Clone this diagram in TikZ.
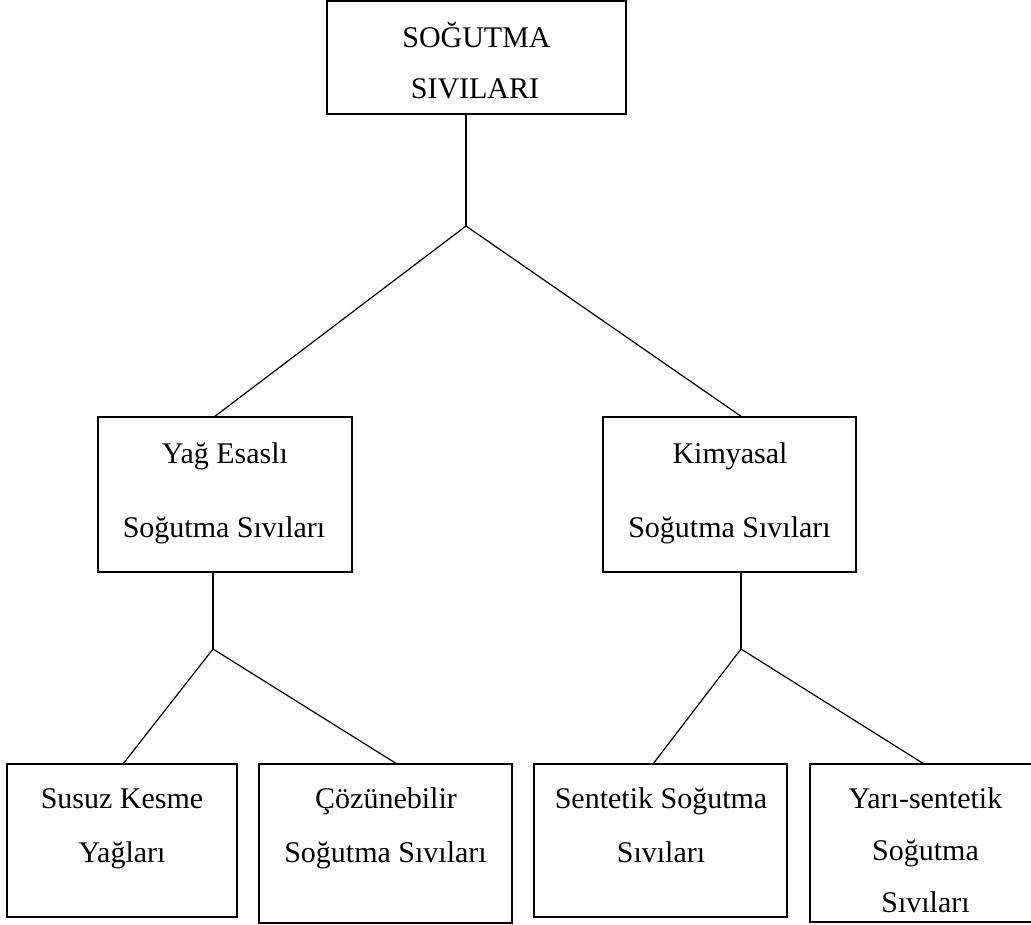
\documentclass[tikz,border=0pt]{standalone}
\usepackage{fontspec}
\setmainfont{Liberation Serif}
\begin{document}
\begin{tikzpicture}[x=1pt,y=1pt,
  box/.style={draw,line width=1.4pt,inner sep=0pt,rectangle},
  lbl/.style={anchor=base,inner sep=0pt,font=\fontsize{30}{36}\selectfont},
  conn/.style={line width=1.2pt}]
\useasboundingbox (0,0) rectangle (1031,-925);
\fill[white] (0,0) rectangle (1031,-925);
\clip (0,0) rectangle (1031,-925);
% boxes
\node[box,minimum width=299pt,minimum height=113pt] (top) at (476.5,-57.5) {};
\node[box,minimum width=254pt,minimum height=155pt] (mL) at (225,-494.5) {};
\node[box,minimum width=253pt,minimum height=155pt] (mR) at (729.5,-494.5) {};
\node[box,minimum width=230pt,minimum height=153pt] (b1) at (122,-840.5) {};
\node[box,minimum width=253pt,minimum height=159pt] (b2) at (385.5,-843.5) {};
\node[box,minimum width=253pt,minimum height=153pt] (b3) at (660.5,-840.5) {};
\node[box,minimum width=231pt,minimum height=158pt] (b4) at (925.5,-843) {};
% labels
\node[lbl] (t1) at (476.5,-48) {SOĞUTMA};
\node[lbl] (t2) at (475,-99) {SIVILARI};
\node[lbl] (mL1) at (225,-463) {Yağ Esaslı};
\node[lbl] (mL2) at (224,-537) {Soğutma Sıvıları};
\node[lbl] (mR1) at (730,-463) {Kimyasal};
\node[lbl] (mR2) at (729.5,-537) {Soğutma Sıvıları};
\node[lbl] (b11) at (122,-808) {Susuz Kesme};
\node[lbl] (b12) at (122,-862) {Yağları};
\node[lbl] (b21) at (386,-808) {Çözünebilir};
\node[lbl] (b22) at (385.5,-862) {Soğutma Sıvıları};
\node[lbl] (b31) at (661,-808) {Sentetik Soğutma};
\node[lbl] (b32) at (661,-862) {Sıvıları};
\node[lbl] (b41) at (925.5,-808) {Yarı-sentetik};
\node[lbl] (b42) at (925.5,-860) {Soğutma};
\node[lbl] (b43) at (925.5,-912) {Sıvıları};
% junctions and ends
\coordinate (j0) at (466,-226);
\coordinate (a1) at (214,-417);
\coordinate (a2) at (742,-417);
\coordinate (j1) at (213,-649);
\coordinate (c1) at (123,-764);
\coordinate (c2) at (397,-764);
\coordinate (j2) at (741,-649);
\coordinate (c3) at (653,-764);
\coordinate (c4) at (924,-764);
% connectors
\draw[conn] (top.south -| j0) -- (j0);
\draw[conn] (j0) -- (a1);
\draw[conn] (j0) -- (a2);
\draw[conn] (mL.south -| j1) -- (j1);
\draw[conn] (j1) -- (c1);
\draw[conn] (j1) -- (c2);
\draw[conn] (mR.south -| j2) -- (j2);
\draw[conn] (j2) -- (c3);
\draw[conn] (j2) -- (c4);
\end{tikzpicture}
\end{document}
